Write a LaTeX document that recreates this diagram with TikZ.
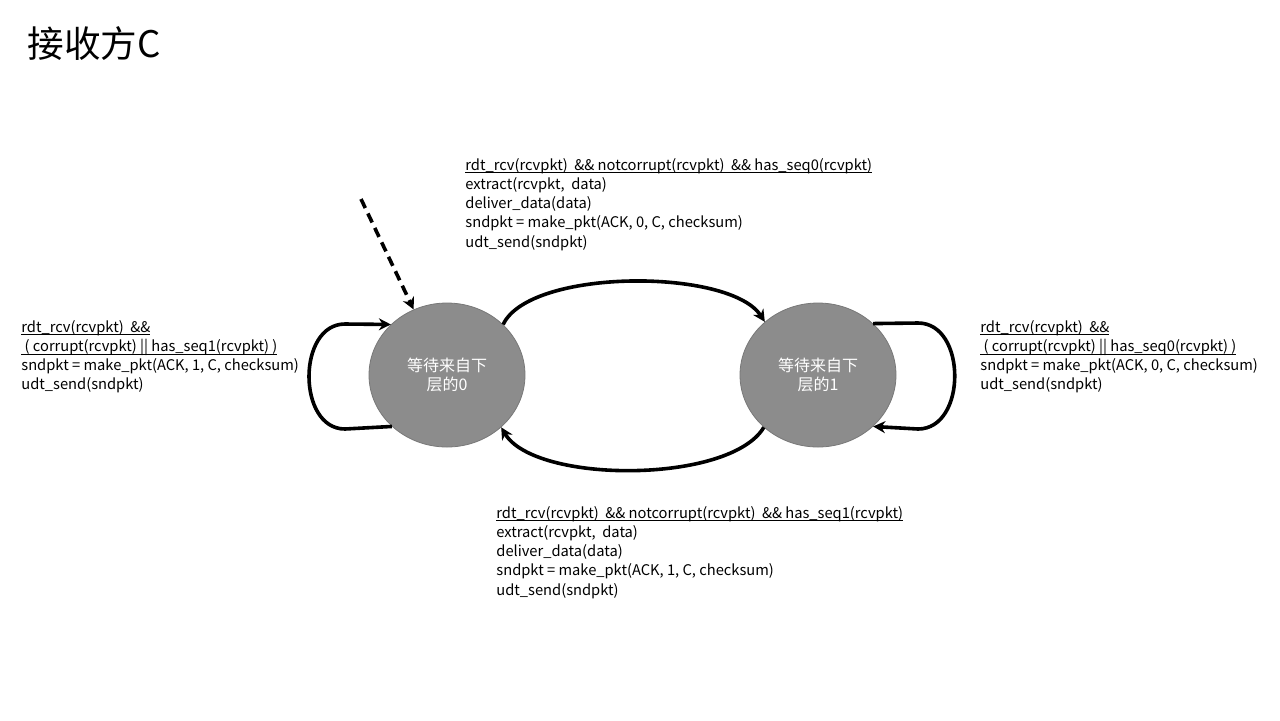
\documentclass[tikz,border=0pt]{standalone}
\usepackage{fontspec}
\setmainfont{Noto Sans CJK SC}
\usetikzlibrary{shapes.geometric,arrows.meta}
\newcommand{\ulin}[1]{\underline{\smash{#1}}}
\tikzset{
  state/.style={ellipse,minimum width=78pt,minimum height=72pt,inner sep=0pt,
    fill={rgb,255:red,140;green,140;blue,140},draw={rgb,255:red,120;green,120;blue,120},line width=0.4pt,
    text=white,align=center,font=\fontsize{8pt}{9.5pt}\selectfont},
  conn/.style={line width=1.8pt,-{Stealth[length=6pt,width=6pt]}},
  lbl/.style={anchor=base west,inner sep=0pt,align=left,font=\fontsize{7.35pt}{9.65pt}\selectfont}
}
\begin{document}
\begin{tikzpicture}[x=0.5pt,y=-0.5pt]
\useasboundingbox (0,0) rectangle (1280,720);
\node[anchor=west,inner sep=0pt,font=\fontsize{18.3pt}{20pt}\selectfont] (title) at (27,44) {接收方C};
\node[state] (s0) at (447,375) {等待来自下\\层的0};
\node[state] (s1) at (818,375) {等待来自下\\层的1};
\coordinate (init) at (361,199);
\draw[conn,dash pattern=on 5pt off 3pt] (init) -- (s0.117);
\draw[conn] (s0.42) .. controls (530,268) and (730,268) .. (s1.135);
\draw[conn] (s1.-136) .. controls (730,484) and (535,484) .. (s0.-44);
\draw[conn] (s0.-137) -- (345,429) .. controls (297,429) and (297,324) .. (345,324) -- (s0.138);
\draw[conn] (s1.43) -- (918,323) .. controls (967,323) and (967,429) .. (918,429) -- (s1.-43);
\node[lbl] (ltop) at (465,247.2) {\ulin{rdt\_rcv(rcvpkt)\ \ \&\& notcorrupt(rcvpkt)\ \ \&\& has\_seq0(rcvpkt)}\\extract(rcvpkt,\ \ data)\\deliver\_data(data)\\sndpkt = make\_pkt(ACK, 0, C, checksum)\\udt\_send(sndpkt)};
\node[lbl] (lbot) at (496,595.2) {\ulin{rdt\_rcv(rcvpkt)\ \ \&\& notcorrupt(rcvpkt)\ \ \&\& has\_seq1(rcvpkt)}\\extract(rcvpkt,\ \ data)\\deliver\_data(data)\\sndpkt = make\_pkt(ACK, 1, C, checksum)\\udt\_send(sndpkt)};
\node[lbl] (lleft) at (21,389.9) {\ulin{rdt\_rcv(rcvpkt)\ \ \&\&}\\\ulin{\ ( corrupt(rcvpkt)\ || has\_seq1(rcvpkt) )}\\sndpkt = make\_pkt(ACK, 1, C, checksum)\\udt\_send(sndpkt)};
\node[lbl] (lright) at (980,389.9) {\ulin{rdt\_rcv(rcvpkt)\ \ \&\&}\\\ulin{\ ( corrupt(rcvpkt)\ || has\_seq0(rcvpkt) )}\\sndpkt = make\_pkt(ACK, 0, C, checksum)\\udt\_send(sndpkt)};
\end{tikzpicture}
\end{document}
